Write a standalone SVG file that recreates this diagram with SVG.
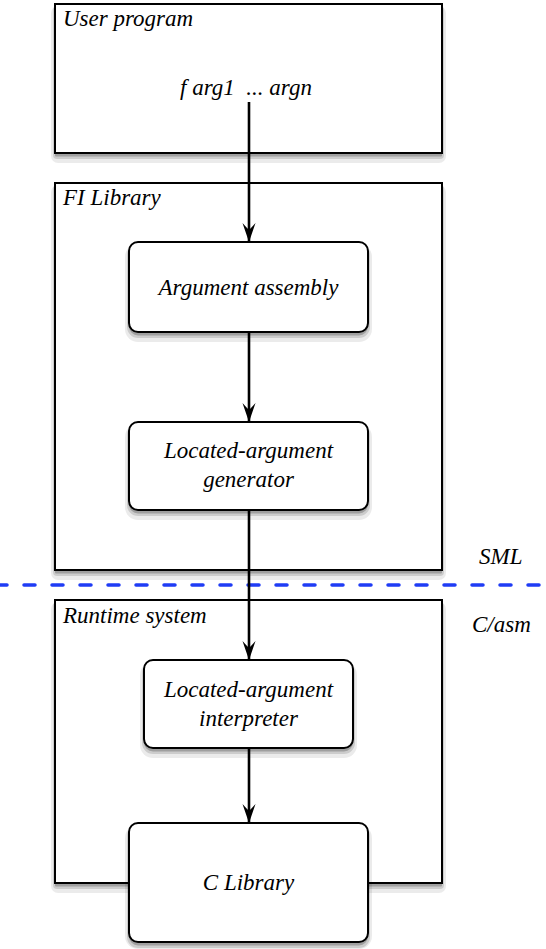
<svg xmlns="http://www.w3.org/2000/svg" width="546" height="949" viewBox="0 0 546 949">
<style>
.box{fill:#fff;stroke:#000;stroke-width:2}
.s1{fill:#000;opacity:0.08}
.s2{fill:#000;opacity:0.13}
.s3{fill:#000;opacity:0.22}
.c{text-anchor:middle}
.edge{stroke:#000;stroke-width:2.6;fill:none;marker-end:url(#ah)}
</style>
<defs>
<marker id="ah" viewBox="0 0 20 14" refX="19" refY="7" markerWidth="20" markerHeight="14" markerUnits="userSpaceOnUse" orient="auto">
<path d="M20,7 L1,0.5 Q5,4 8,7 Q5,10 1,13.5 Z" fill="#000"/>
</marker>
</defs>
<rect width="546" height="949" fill="#fff"/>
<g font-family="Liberation Serif" font-style="italic" font-size="23" fill="#000">
<g id="user-program">
<rect class="s1" x="51" y="6" width="395" height="157" rx="7"/>
<rect class="s2" x="53" y="6" width="391" height="153" rx="4"/>
<rect class="s3" x="55" y="6" width="387" height="150.5" rx="1"/>
<rect class="box" x="55" y="4" width="387" height="149"/>
<text x="63" y="26">User program</text>
<text class="c" x="246" y="95">f arg1 &#160;... argn</text>
</g>
<g id="fi-library">
<rect class="s1" x="51" y="185" width="395" height="395" rx="7"/>
<rect class="s2" x="53" y="185" width="391" height="391" rx="4"/>
<rect class="s3" x="55" y="185" width="387" height="388.5" rx="1"/>
<rect class="box" x="55" y="183" width="387" height="387"/>
<text x="63" y="205">FI Library</text>
</g>
<g id="runtime-system">
<rect class="s1" x="51" y="602" width="395" height="291" rx="7"/>
<rect class="s2" x="53" y="602" width="391" height="287" rx="4"/>
<rect class="s3" x="55" y="602" width="387" height="284.5" rx="1"/>
<rect class="box" x="55" y="600" width="387" height="283"/>
<text x="63" y="623">Runtime system</text>
</g>
<g id="argument-assembly">
<rect class="s1" x="125" y="244" width="247" height="98" rx="13"/>
<rect class="s2" x="127" y="244" width="243" height="94" rx="11"/>
<rect class="s3" x="129" y="244" width="239" height="91.5" rx="9"/>
<rect class="box" x="129" y="242" width="239" height="90" rx="9"/>
<text class="c" x="248.5" y="295">Argument assembly</text>
</g>
<g id="located-argument-generator">
<rect class="s1" x="125" y="424" width="247" height="96" rx="13"/>
<rect class="s2" x="127" y="424" width="243" height="92" rx="11"/>
<rect class="s3" x="129" y="424" width="239" height="89.5" rx="9"/>
<rect class="box" x="129" y="422" width="239" height="88" rx="9"/>
<text class="c" x="248.5" y="458">Located-argument</text>
<text class="c" x="248.5" y="487">generator</text>
</g>
<g id="located-argument-interpreter">
<rect class="s1" x="140" y="662" width="217" height="96" rx="13"/>
<rect class="s2" x="142" y="662" width="213" height="92" rx="11"/>
<rect class="s3" x="144" y="662" width="209" height="89.5" rx="9"/>
<rect class="box" x="144" y="660" width="209" height="88" rx="9"/>
<text class="c" x="248.5" y="697">Located-argument</text>
<text class="c" x="248.5" y="726">interpreter</text>
</g>
<g id="c-library">
<rect class="s1" x="125" y="825" width="247" height="124" rx="13"/>
<rect class="s2" x="127" y="825" width="243" height="123" rx="11"/>
<rect class="s3" x="129" y="825" width="239" height="120.5" rx="9"/>
<rect class="box" x="129" y="823" width="239" height="119" rx="9"/>
<text class="c" x="248.5" y="890">C Library</text>
</g>
<g id="boundary">
<line x1="-4" y1="585" x2="550" y2="585" stroke="#1f3cf5" stroke-width="3.5" stroke-linecap="round" stroke-dasharray="11 17"/>
<text x="479" y="564">SML</text>
<text x="472" y="632">C/asm</text>
</g>
</g>
<g id="connectors">
<line class="edge" x1="249" y1="102" x2="249" y2="241"/>
<line class="edge" x1="249" y1="333" x2="249" y2="421"/>
<line class="edge" x1="249" y1="511" x2="249" y2="659"/>
<line class="edge" x1="249" y1="749" x2="249" y2="822"/>
</g>
</svg>
